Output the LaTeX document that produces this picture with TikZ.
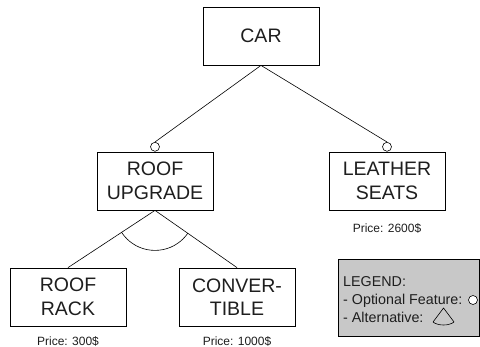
\documentclass[tikz,border=0pt]{standalone}
\usepackage{fontspec}
\setmainfont{Liberation Sans}
\definecolor{legfill}{RGB}{200,200,200}
\definecolor{txt}{RGB}{30,30,30}
\begin{document}
\begin{tikzpicture}[x=1pt,y=-1pt,
  feat/.style={draw=black,line width=0.8pt,minimum width=116pt,minimum height=58pt,
    align=center,inner sep=0pt,text=txt,font=\fontsize{19.5}{23.5}\selectfont},
  price/.style={text=txt,inner sep=0pt,font=\fontsize{12}{14}\selectfont},
  legtext/.style={text=txt,inner sep=0pt,anchor=base west,font=\fontsize{14.3}{17}\selectfont},
  conn/.style={draw=black,line width=0.6pt},
  optc/.style={draw=black,fill=white,line width=0.6pt,circle,minimum size=9pt,inner sep=0pt}]
\useasboundingbox (0,0) rectangle (480,347);
% feature boxes
\node[feat] (car) at (261,36) {CAR};
\node[feat] (ru) at (155,181) {ROOF\\UPGRADE};
\node[feat] (ls) at (387,181) {LEATHER\\SEATS};
\node[feat] (rr) at (68,297) {ROOF\\RACK};
\node[feat] (ct) at (237,297) {CONVER-\\TIBLE};
% optional circles
\node[optc,anchor=south] (oru) at (ru.north) {};
\node[optc,anchor=south] (ols) at (ls.north) {};
% connectors
\draw[conn] (car.south) -- (oru.north);
\draw[conn] (car.south) -- (ols.north);
\draw[conn] (ru.south) -- (rr.north);
\draw[conn] (ru.south) -- (ct.north);
\begin{scope}
  \clip (ru.south) -- (rr.north) -- (ct.north) -- cycle;
  \draw[conn] (ru.south) circle (40);
\end{scope}
% prices
\node[price] (p1) at (387,228) {Price: 2600\$};
\node[price] (p2) at (68,341) {Price: 300\$};
\node[price] (p3) at (237,341) {Price: 1000\$};
% legend
\node[draw=black,fill=legfill,line width=0.8pt,minimum width=141pt,minimum height=77pt,
  inner sep=0pt,anchor=north west] (leg) at (338,259) {};
\node[legtext] (l1) at (343,287) {LEGEND:};
\node[legtext] (l2) at (343,305) {- Optional Feature:};
\node[legtext] (l3) at (343,323) {- Alternative:};
\node[optc] (lc) at (473,300) {};
\coordinate (ta) at (443.5,308);
\coordinate (tl) at (433,322);
\coordinate (tr) at (454,322);
\draw[conn,line join=round] (tl) -- (ta) -- (tr);
\draw[conn] (tl) .. controls (438,326) and (449,326) .. (tr);
\end{tikzpicture}
\end{document}
